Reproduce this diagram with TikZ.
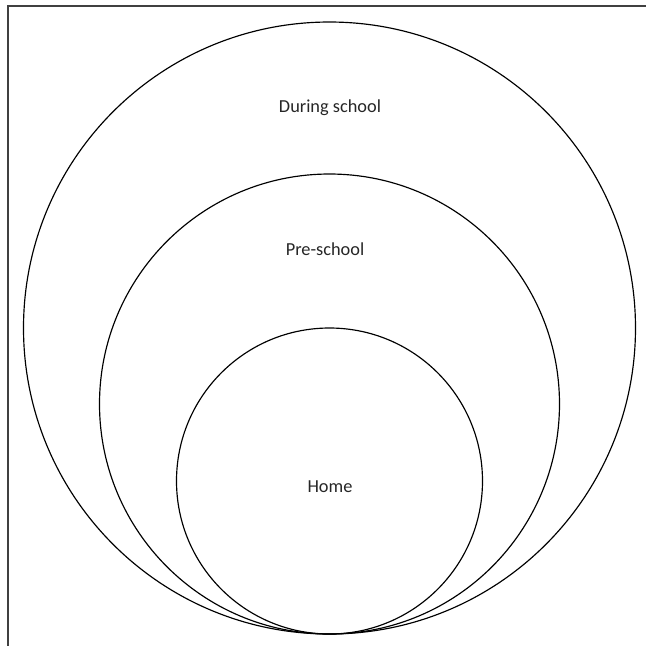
\documentclass[tikz,border=0pt]{standalone}
\usepackage{fontspec}
\setmainfont{Carlito}
\usepackage{tikz}
\usetikzlibrary{positioning}

\begin{document}
\begin{tikzpicture}[x=0.6pt,y=-0.6pt,
  ring/.style={draw,line width=0.7pt},
  lbl/.style={font=\fontsize{11}{13}\selectfont,text=black!85}]
\useasboundingbox (0,0) rectangle (646,646);
\draw[line width=0.9pt,black!75] (8,646) -- (8,6) -- (646,6);
\draw[ring] (329.5,328) circle[radius=183.6pt];
\draw[ring] (329.5,404) circle[radius=138pt];
\draw[ring] (329.5,481) circle[radius=91.8pt];
\node[lbl] (during) at (330,108) {During school};
\node[lbl] (pre) at (325,249) {Pre-school};
\node[lbl] (home) at (330,487) {Home};
\end{tikzpicture}
\end{document}
